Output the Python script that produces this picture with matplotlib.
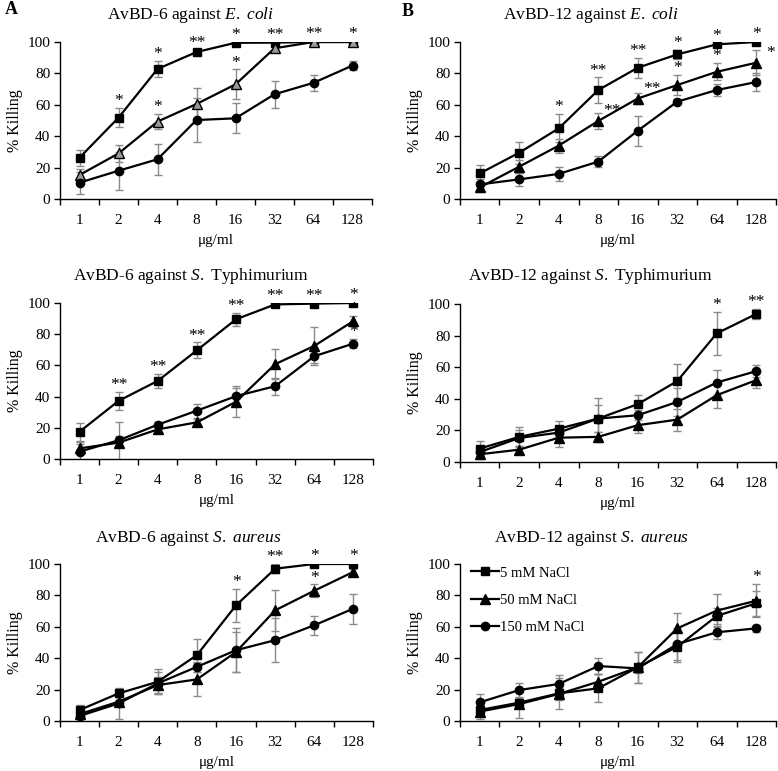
import numpy as np
import matplotlib
matplotlib.use('Agg')
from matplotlib import pyplot as plt

plt.rcParams['font.family'] = ['Liberation Serif', 'DejaVu Serif']
plt.rcParams['mathtext.fontset'] = 'custom'
plt.rcParams['mathtext.rm'] = 'Liberation Serif'
plt.rcParams['mathtext.it'] = 'Liberation Serif:italic'

# Data
conc = ['1', '2', '4', '8', '16', '32', '64', '128']
salts = ['5 mM NaCl', '50 mM NaCl', '150 mM NaCl']

# AvBD-6 vs E. coli  (rows: 5, 50, 150 mM NaCl)
a_ecoli = [[26.3, 51.8, 82.8, 93.6, 99.5, 99.6, 100, 100],
           [15.3, 29.0, 49.3, 60.5, 73.0, 96.0, 100, 100],
           [10.4, 18.0, 25.3, 50.3, 51.4, 66.7, 74.0, 85.0]]
a_ecoli_err = [[5.2, 6, 5, 1.5, 0.8, 0.8, 0.5, 0.5],
               [4, 5.5, 5, 10, 9.5, 2.5, 0.5, 0.5],
               [7, 12, 10, 14, 9.5, 8.5, 5, 3]]
a_ecoli_stars = [(0, 1, '*'), (0, 2, '*'), (1, 2, '*'), (0, 3, '**'), (0, 4, '*'),
                 (1, 4, '*'), (0, 5, '**'), (0, 6, '**'), (0, 7, '*')]

# AvBD-12 vs E. coli
b_ecoli = [[16.3, 29.5, 45.0, 69.4, 83.6, 92.1, 98.5, 100],
           [7.4, 20.6, 34.0, 49.7, 64.0, 72.6, 81.0, 86.8],
           [9.3, 12.5, 16.0, 23.8, 43.5, 62.0, 69.4, 74.5]]
b_ecoli_err = [[5.5, 7, 9, 8, 6.5, 3, 1, 0.5],
               [3, 4, 4.5, 5, 3.5, 6.5, 5.5, 8],
               [3.5, 4, 4.5, 3.5, 9.5, 1.5, 4, 6]]
b_ecoli_stars = [(0, 2, '*'), (0, 3, '**'), (1, 3, '**', 1), (0, 4, '**'), (1, 4, '**', 1),
                 (0, 5, '*'), (1, 5, '*'), (0, 6, '*'), (1, 6, '*'), (0, 7, '*'), (1, 7, '*', 1)]

# AvBD-6 vs S. Typhimurium
a_typh = [[17.5, 37.3, 50.1, 69.7, 89.6, 99.1, 99.6, 100],
          [6.8, 10.5, 19.0, 23.5, 36.7, 60.8, 72.5, 88.5],
          [4.7, 12.0, 22.0, 31.0, 40.3, 46.7, 65.9, 74.0]]
a_typh_err = [[5.7, 5.7, 4.3, 5, 4.3, 0.8, 0.5, 0.5],
              [3, 13, 2, 2, 10, 9.5, 12, 3],
              [6, 3, 2, 4.5, 5, 5.5, 4.5, 3]]
a_typh_stars = [(0, 1, '**'), (0, 2, '**'), (0, 3, '**'), (0, 4, '**'), (0, 5, '**'),
                (0, 6, '**'), (0, 7, '*'), (1, 7, '*'), (2, 7, '*')]

# AvBD-12 vs S. Typhimurium
b_typh = [[8.5, 15.9, 21.1, 27.5, 36.6, 51.2, 81.4, 93.7],
          [4.9, 7.8, 15.4, 15.9, 23.3, 26.8, 42.3, 51.8],
          [6.3, 15.2, 18.6, 27.5, 29.6, 38.0, 50.3, 57.5]]
b_typh_err = [[4.5, 6, 5, 13, 6, 11, 13.5, 3],
              [3, 2, 6, 3, 5, 7, 8, 5],
              [3, 5, 3.5, 8.5, 3, 9, 8, 4]]
b_typh_stars = [(0, 6, '*'), (0, 7, '**')]

# AvBD-6 vs S. aureus
a_aureus = [[7.0, 17.6, 25.0, 42.0, 73.7, 97.0, 100, 100],
            [4.4, 12.3, 22.9, 26.5, 44.0, 70.5, 83.0, 95.0],
            [3.2, 11.2, 24.0, 34.5, 45.1, 51.5, 61.0, 71.6]]
a_aureus_err = [[3, 2, 8, 10.5, 10.5, 3, 0.5, 0.5],
                [2, 3, 5, 10.5, 13, 13, 4, 2],
                [2, 10, 7, 3, 14, 14, 6, 9.5]]
a_aureus_stars = [(0, 4, '*'), (0, 5, '**'), (0, 6, '*'), (1, 6, '*'), (0, 7, '*')]

# AvBD-12 vs S. aureus
b_aureus = [[7.0, 11.7, 17.6, 20.8, 34.2, 47.3, 66.9, 75.0],
            [6.0, 10.8, 17.2, 25.0, 34.2, 59.0, 70.3, 76.6],
            [11.9, 19.7, 23.6, 35.0, 33.5, 49.0, 56.5, 59.0]]
b_aureus_err = [[4, 3, 10, 9, 10, 9.5, 5, 8],
                [5, 9, 4, 5, 10, 10, 10.5, 10.5],
                [5.5, 4.5, 6, 5, 3, 10, 4, 2]]
b_aureus_stars = [(1, 7, '*')]

titles = ['AvBD-6 against $\\mathit{E.\\ coli}$',
          'AvBD-12 against $\\mathit{E.\\ coli}$',
          'AvBD-6 against $\\mathit{S.}$ Typhimurium',
          'AvBD-12 against $\\mathit{S.}$ Typhimurium',
          'AvBD-6 against $\\mathit{S.\\ aureus}$',
          'AvBD-12 against $\\mathit{S.\\ aureus}$']

W, H = 778, 771
fig = plt.figure(figsize=(W / 100, H / 100), dpi=100)

markers = ['s', '^', 'o']
msizes = [6, 6.5, 6]


def px_axes(left, right, y0, y100):
    return [left / W, 1 - y0 / H, (right - left) / W, (y0 - y100) / H]


def draw_panel(ax, kills, errs, stars, tri_face='black', legend=False):
    x = np.arange(1, len(conc) + 1)
    for i in range(3):
        ax.errorbar(x, kills[i], yerr=errs[i], fmt='none', ecolor='#8a8a8a',
                    elinewidth=1, capsize=3, capthick=1, zorder=1)
    for i in range(3):
        fc = tri_face if i == 1 else 'black'
        ax.plot(x, kills[i], color='black', lw=1.6, marker=markers[i], ms=msizes[i],
                mfc=fc, mec='black', label=salts[i], zorder=3)
    for st in stars:
        s, j, txt = st[0], st[1], st[2]
        side = st[3] if len(st) > 3 else 0
        v, e = kills[s][j], errs[s][j]
        if side:
            ax.annotate(txt, xy=(x[j], v), xytext=(10, 4), textcoords='offset points',
                        ha='center', va='baseline', fontsize=12.5, annotation_clip=False)
        else:
            ax.annotate(txt, xy=(x[j], v + e), xytext=(0, 2), textcoords='offset points',
                        ha='center', va='baseline', fontsize=12.5, annotation_clip=False)
    ax.set_xlim(0.5, len(conc) + 0.5)
    ax.set_ylim(0, 100)
    ax.set_yticks(range(0, 101, 20))
    ax.set_xticks(np.arange(0.5, len(conc) + 1, 1))
    ax.set_xticklabels([])
    ax.set_xticks(x, minor=True)
    ax.set_xticklabels(conc, minor=True)
    ax.tick_params(axis='x', which='major', direction='out', length=4, width=1)
    ax.tick_params(axis='x', which='minor', length=0, pad=11, labelsize=11)
    ax.tick_params(axis='y', direction='out', length=4, width=1, pad=3, labelsize=11)
    for sp in ['top', 'right']:
        ax.spines[sp].set_visible(False)
    for sp in ['left', 'bottom']:
        ax.spines[sp].set_linewidth(1)
    ax.set_xlabel('\u03bcg/ml', fontsize=11, labelpad=5)
    ax.set_ylabel('% Killing', fontsize=11.5, labelpad=3)
    if legend:
        ax.legend(loc='upper left', bbox_to_anchor=(0.035, 0.985), frameon=False,
                  fontsize=10.5, handlelength=1.9, handletextpad=0.1,
                  labelspacing=0.95, borderaxespad=0, borderpad=0)


ax1 = fig.add_axes(px_axes(60, 372, 199, 42))
draw_panel(ax1, a_ecoli, a_ecoli_err, a_ecoli_stars, tri_face='#9a9a9a')
ax2 = fig.add_axes(px_axes(460, 776, 199, 42))
draw_panel(ax2, b_ecoli, b_ecoli_err, b_ecoli_stars)
ax3 = fig.add_axes(px_axes(60, 373, 459, 303))
draw_panel(ax3, a_typh, a_typh_err, a_typh_stars)
ax4 = fig.add_axes(px_axes(460, 776, 462, 304))
draw_panel(ax4, b_typh, b_typh_err, b_typh_stars)
ax5 = fig.add_axes(px_axes(60, 373, 721, 564))
draw_panel(ax5, a_aureus, a_aureus_err, a_aureus_stars)
ax6 = fig.add_axes(px_axes(460, 776, 721, 564))
draw_panel(ax6, b_aureus, b_aureus_err, b_aureus_stars, legend=True)

title_pos = [(190, 15), (591, 15), (191, 276), (590, 276), (188, 538), (591, 538)]
for t, (tx, ty) in zip(titles, title_pos):
    fig.text(tx / W, 1 - ty / H, t, ha='center', va='center', fontsize=12.5)

fig.text(5 / W, 1 - 10 / H, 'A', ha='left', va='center', fontsize=13, fontweight='bold')
fig.text(402 / W, 1 - 11 / H, 'B', ha='left', va='center', fontsize=13, fontweight='bold')

fig.savefig('out.png', dpi=100)
